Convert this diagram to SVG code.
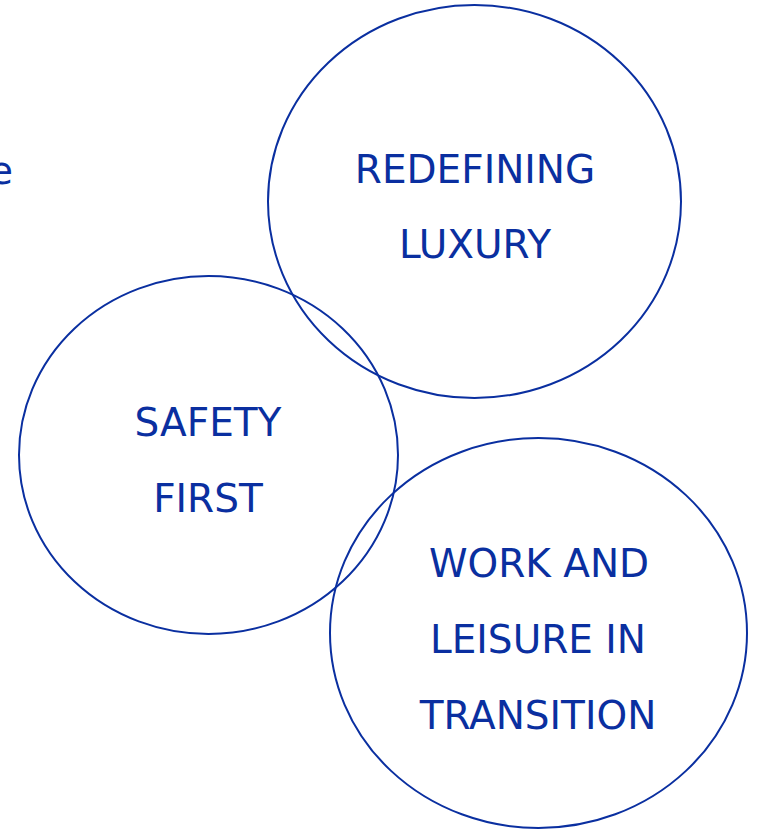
<svg xmlns="http://www.w3.org/2000/svg" width="757" height="829" viewBox="0 0 757 829">
<style>
.c{fill:none;stroke:#0a2fa0;stroke-width:2}
.t{font-family:"DejaVu Sans","Liberation Sans",sans-serif;font-size:39px;fill:#0a2fa0;text-anchor:middle}
</style>
<rect width="757" height="829" fill="#fff"/>
<text class="t" x="1" y="184">e</text>
<g id="node-luxury">
<ellipse class="c" cx="474.5" cy="201.5" rx="206.5" ry="196.5"/>
<text class="t" x="475" y="183">REDEFINING</text>
<text class="t" x="475" y="258">LUXURY</text>
</g>
<g id="node-safety">
<ellipse class="c" cx="208.5" cy="455" rx="189.5" ry="179"/>
<text class="t" x="208" y="436">SAFETY</text>
<text class="t" x="208" y="512">FIRST</text>
</g>
<g id="node-work">
<ellipse class="c" cx="538.5" cy="633" rx="208.5" ry="195"/>
<text class="t" x="539" y="577">WORK AND</text>
<text class="t" x="538" y="653">LEISURE IN</text>
<text class="t" x="538" y="729">TRANSITION</text>
</g>
<g id="connectors"/>
</svg>
